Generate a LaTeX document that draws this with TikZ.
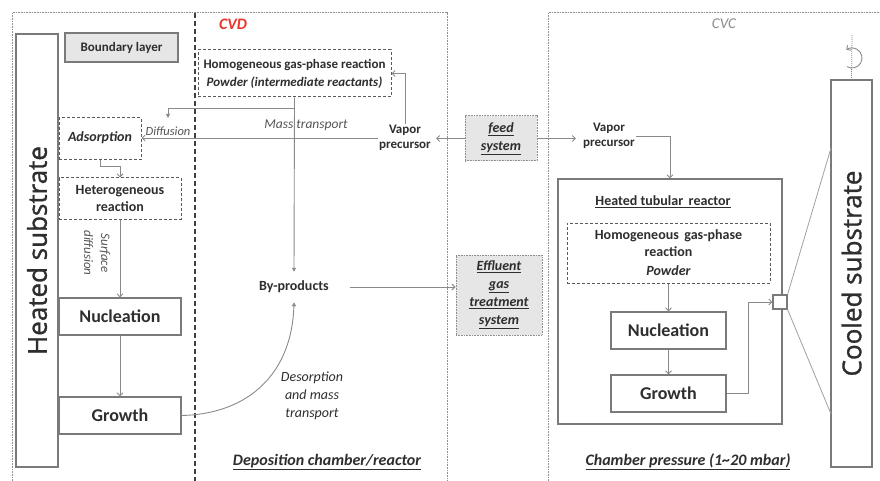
\documentclass[tikz,border=0pt]{standalone}
\usepackage{fontspec}
\setmainfont{Carlito}
\newfontfamily\bigfont[FakeBold=1.2]{Open Sans}
\usetikzlibrary{arrows.meta,calc}

\definecolor{ink}{HTML}{2E2E2E}
\definecolor{softink}{HTML}{555555}
\definecolor{wirec}{HTML}{8A8A8A}
\definecolor{boxc}{HTML}{7A7A7A}
\definecolor{dashc}{HTML}{5A5A5A}
\definecolor{dotc}{HTML}{8F8F8F}
\definecolor{shade}{HTML}{E6E6E6}
\definecolor{cvdred}{HTML}{E8352B}

\newcommand\fsz[2]{\fontsize{#1}{#2}\selectfont}

\begin{document}
\begin{tikzpicture}[x=1pt,y=-1pt,
  wire/.style={draw=wirec, line width=0.9pt},
  opentip/.style={-{Straight Barb[length=3pt,width=6pt]}},
  filltip/.style={-{Triangle[length=4pt,width=4pt]}},
  solidbox/.style={draw=boxc, line width=1.2pt, fill=white, inner sep=0pt, text=ink, align=center},
  dashbox/.style={draw=dashc, line width=1pt, dash pattern=on 3pt off 2pt, inner sep=0pt, text=ink, align=center},
  dotbox/.style={draw=dotc, line width=1pt, dash pattern=on 0.8pt off 0.8pt, fill=shade, inner sep=0pt, text=ink, align=center},
  frame/.style={draw=dotc, line width=1pt, dash pattern=on 0.8pt off 0.8pt},
  lbl/.style={text=ink, inner sep=1pt, align=center},
]
\useasboundingbox (0,0) rectangle (880,481);
\fill[white] (0,0) rectangle (880,481);

% ---------- outer chambers ----------
\draw[frame] (12,481) -- (12,13) -- (447,13) -- (447,481);
\draw[frame] (548,481) -- (548,13) -- (880,13);
\draw[draw=black!75, line width=1.4pt, dash pattern=on 5pt off 3pt] (195,13) -- (195,481);

\node[lbl, text=cvdred, font=\bfseries\itshape\fsz{16}{18}] (cvd) at (233,24) {CVD};
\node[lbl, text=black!45, font=\itshape\fsz{15}{17}] (cvc) at (724,24) {CVC};

% ---------- CVD side ----------
\node[solidbox, minimum width=433pt, minimum height=42pt, rotate=90,
      font=\bigfont\fsz{26}{28}] (hot) at (37,250.5) {Heated substrate};

\node[solidbox, fill=shade, minimum width=113pt, minimum height=29pt,
      font=\bfseries\fsz{13}{15}] (bl) at (121.5,47.5) {Boundary layer};

\node[dashbox, minimum width=193pt, minimum height=47pt,
      font=\bfseries\fsz{13}{18}] (homL) at (294.5,73.5)
      {Homogeneous gas-phase reaction\\\itshape Powder (intermediate reactants)};

\node[dashbox, minimum width=82pt, minimum height=42pt,
      font=\bfseries\itshape\fsz{14}{16}] (ads) at (100,139) {\raisebox{4pt}{Adsorption}};

\node[dashbox, minimum width=122pt, minimum height=41pt,
      font=\bfseries\fsz{14}{17}] (het) at (120,198.5) {Heterogeneous\\reaction};

\node[solidbox, minimum width=122pt, minimum height=37pt,
      font=\bfseries\fsz{18}{20}] (nucL) at (120,316.5) {Nucleation};

\node[solidbox, minimum width=122pt, minimum height=37pt,
      font=\bfseries\fsz{18}{20}] (growL) at (120,415.5) {Growth};

\node[lbl, text=softink, font=\itshape\fsz{12.5}{14}] (diff) at (168,131) {Diffusion};
\node[lbl, text=softink, font=\itshape\fsz{13.5}{15}] (mt) at (306,125) {Mass transport};
\node[lbl, rotate=-90, text=softink, font=\itshape\fsz{13}{17}] (sdiff) at (97,253) {Surface\\diffusion};

\node[lbl, font=\bfseries\fsz{13}{15}] (vpL) at (405,138) {Vapor\\precursor};
\node[lbl, font=\bfseries\fsz{14}{16}] (bp) at (294,287) {By-products};
\node[lbl, font=\itshape\fsz{14}{18}] (deso) at (312,396) {Desorption\\and mass\\transport};

\node[lbl, font=\bfseries\itshape\fsz{16}{18}] (dep) at (327,462) {\underline{Deposition chamber/reactor}};

% ---------- feed and effluent ----------
\node[dotbox, minimum width=72pt, minimum height=45pt,
      font=\bfseries\itshape\fsz{14}{18}] (feed) at (501,138.5) {\underline{feed}\\\underline{system}};

\node[dotbox, minimum width=86pt, minimum height=80pt,
      font=\bfseries\itshape\fsz{14}{18}] (eff) at (499,295)
      {\underline{Effluent}\\\underline{gas}\\\underline{treatment}\\\underline{system}};

% ---------- CVC side ----------
\node[lbl, font=\bfseries\fsz{13}{15}] (vpR) at (609,136) {Vapor\\precursor};

\node[solidbox, fill=none, minimum width=224pt, minimum height=245pt] (reac) at (670,301.5) {};
\node[lbl, font=\bfseries\fsz{14}{16}] (reacT) at (663,202) {\underline{Heated tubular\, reactor}};

\node[dashbox, minimum width=203pt, minimum height=60pt,
      font=\bfseries\fsz{14}{17}] (homR) at (668.5,253)
      {Homogeneous\, gas-phase\\reaction\\[2pt]\itshape Powder};

\node[solidbox, minimum width=115pt, minimum height=37pt,
      font=\bfseries\fsz{18}{20}] (nucR) at (668.5,330.5) {Nucleation};
\node[solidbox, minimum width=115pt, minimum height=37pt,
      font=\bfseries\fsz{18}{20}] (growR) at (668.5,393.5) {Growth};

\node[solidbox, minimum width=14pt, minimum height=14pt] (sq) at (780,302) {};

\node[solidbox, minimum width=387pt, minimum height=41pt, rotate=90,
      font=\bigfont\fsz{26}{28}] (cool) at (851.5,273.5) {Cooled substrate};

\node[lbl, font=\bfseries\itshape\fsz{16}{18}] (cp) at (688,462) {\underline{Chamber pressure (1\textasciitilde20 mbar)}};

% ---------- helper points ----------
\coordinate (mtsplit) at (294,108);
\coordinate (difftip) at (168,118);
\coordinate (zoomtop) at (831,148);
\coordinate (zoombot) at (831,414);
\coordinate (axtop) at (852,35);
\coordinate (rotc) at (852,58);

% ---------- connectors, CVD ----------
\draw[wire, filltip] (homL.south) -- ([yshift=8pt]bp.north);
\draw[wire, filltip] (mtsplit) -| (difftip);
\draw[wire, opentip] (vpL.west) -- (vpL.west -| ads.east);
\draw[wire, opentip] (vpL.north) |- (homL.east);
\draw[wire, opentip] (ads.south) -- ++(0,6) -| (het.north);
\draw[wire, opentip] (het.south) -- (nucL.north);
\draw[wire, opentip] (nucL.south) -- (growL.north);
\draw[wire, filltip] (growL.east) .. controls (250,414) and (292,372) .. ([yshift=-8pt]bp.south);
\draw[wire, opentip, shorten <=20pt] (bp.east) -- (bp.east -| eff.west);

% ---------- connectors, feed ----------
\draw[wire, opentip, shorten >=4pt] (feed.west) -- (feed.west -| vpL.east);
\draw[wire, opentip, shorten >=6pt] (feed.east) -- (feed.east -| vpR.west);

% ---------- connectors, CVC ----------
\draw[wire, opentip] (vpR.east) -| (reac.north);
\draw[wire, opentip] (homR.south) -- (nucR.north);
\draw[wire, opentip] (nucR.south) -- (growR.north);
\draw[wire, opentip] (growR.east) -- ++(22,0) |- (sq.west);
\draw[draw=wirec!80, line width=0.8pt] (sq.north east) -- (zoomtop);
\draw[draw=wirec!80, line width=0.8pt] (sq.south east) -- (zoombot);

% rotation mark above the cooled substrate
\draw[draw=wirec, line width=0.8pt, dash pattern=on 1pt off 1pt] (axtop) -- (cool.east);
\draw[draw=wirec, line width=0.9pt, -{Straight Barb[length=3pt,width=6pt]}]
  ([shift={(-120:10pt)}]rotc) arc[start angle=-120, end angle=125, radius=10pt];
\end{tikzpicture}
\end{document}
